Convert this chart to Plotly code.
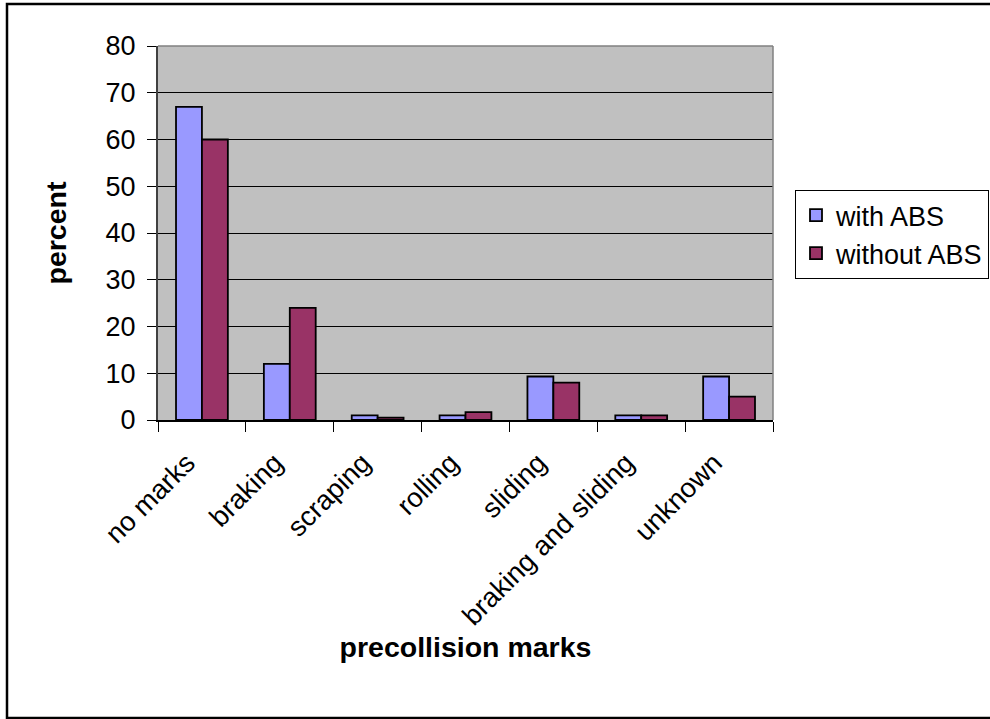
import plotly.graph_objects as go

categories = ["no marks", "braking", "scraping", "rolling", "sliding",
              "braking and sliding", "unknown"]
with_abs = [67, 12, 1, 1, 9.3, 1, 9.3]
without_abs = [60, 24, 0.5, 1.7, 8, 1, 5]
y_ticks = [0, 10, 20, 30, 40, 50, 60, 70, 80]

FONT = "Liberation Sans, Arial, sans-serif"

W, H = 990, 719
L, R, T, B = 158, 217, 46, 299
pw, ph = W - L - R, H - T - B

def px_x(x):
    return (x - L) / pw

def px_y(y):
    return (H - B - y) / ph

fig = go.Figure()
fig.add_trace(go.Bar(name="with ABS", x=categories, y=with_abs,
                     marker=dict(color="#9999FF", line=dict(color="black", width=1.8))))
fig.add_trace(go.Bar(name="without ABS", x=categories, y=without_abs,
                     marker=dict(color="#993366", line=dict(color="black", width=1.8))))

fig.update_layout(
    width=W, height=H,
    margin=dict(l=L, r=R, t=T, b=B, autoexpand=False),
    paper_bgcolor="white",
    plot_bgcolor="#C0C0C0",
    barmode="group", bargap=0.41, bargroupgap=0,
    font=dict(family=FONT, color="black", size=27),
    showlegend=True,
    legend=dict(x=px_x(795), y=px_y(190), xanchor="left", yanchor="top",
                bgcolor="white", bordercolor="black", borderwidth=1,
                font=dict(size=27, family=FONT), tracegroupgap=0,
                itemwidth=30),
    xaxis=dict(
        type="category", tickson="boundaries", ticks="outside", ticklen=10,
        tickcolor="black", tickwidth=1, tickangle=-45,
        showline=True, linecolor="black", linewidth=1.5,
        showgrid=False, automargin=False,
        ticklabelstandoff=14, ticklabelshift=-15,
        tickfont=dict(size=27.5, family=FONT),
        title=dict(text="<b>precollision marks</b>", standoff=5,
                   font=dict(size=28.5, family=FONT)),
    ),
    yaxis=dict(
        range=[0, 80], tickvals=y_ticks, ticks="outside", ticklen=9,
        tickcolor="black", tickwidth=1,
        showline=True, linecolor="#404040", linewidth=2,
        showgrid=True, gridcolor="black", gridwidth=1,
        zeroline=False, automargin=False, ticklabelstandoff=6,
        tickfont=dict(size=27, family=FONT),
        title=dict(text="<b>percent</b>", standoff=31,
                   font=dict(size=28.5, family=FONT)),
    ),
    shapes=[
        dict(type="line", xref="paper", yref="paper", x0=0, x1=1, y0=1, y1=1,
             line=dict(color="#808080", width=1.5), layer="above"),
        dict(type="line", xref="paper", yref="paper", x0=1, x1=1, y0=0, y1=1,
             line=dict(color="#808080", width=1.5), layer="above"),
        dict(type="rect", xref="paper", yref="paper",
             x0=px_x(7), x1=px_x(1000), y0=px_y(718), y1=px_y(4),
             line=dict(color="black", width=2.5), fillcolor="rgba(0,0,0,0)",
             layer="above"),
    ],
)

fig.write_html("out.html", config={"displayModeBar": False},
               post_script="document.body.style.margin='0';")
